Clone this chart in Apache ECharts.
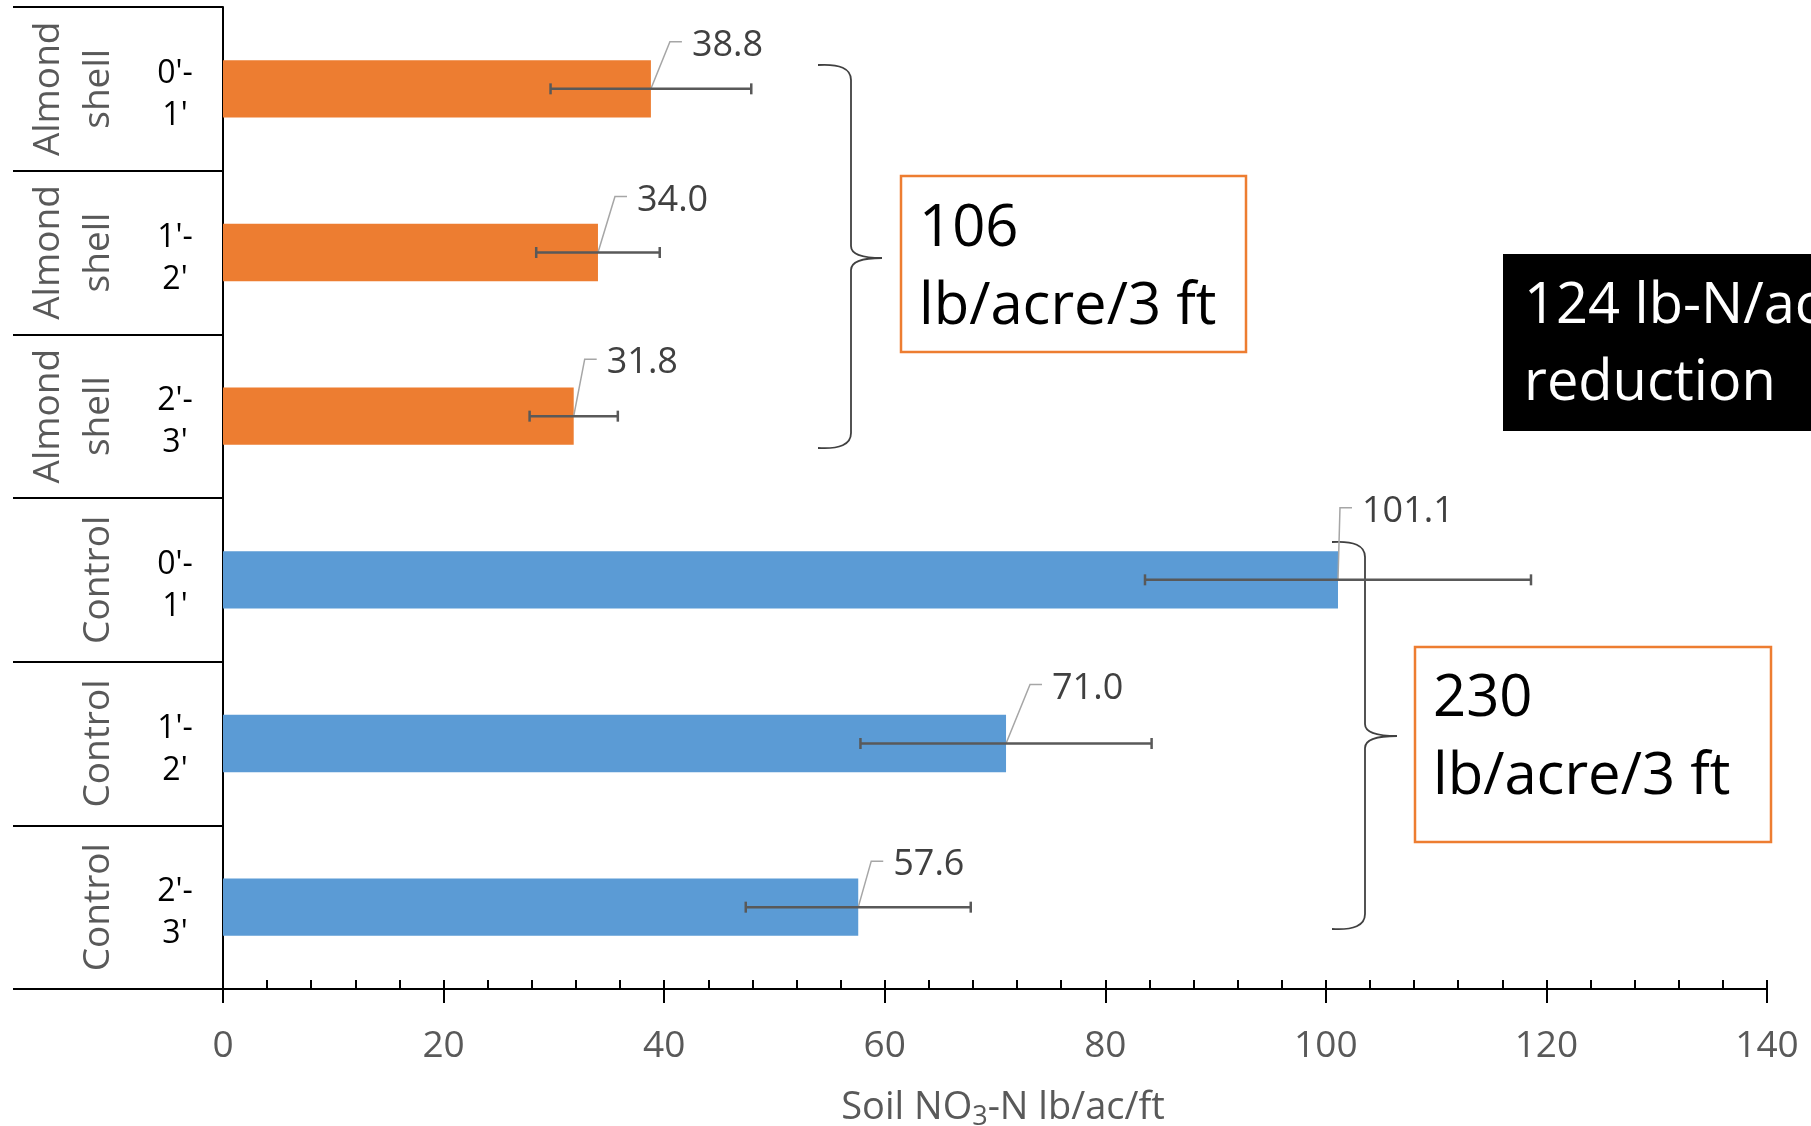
<!DOCTYPE html>
<html>
<head>
<meta charset="utf-8">
<script src="https://cdn.jsdelivr.net/npm/echarts@6/dist/echarts.min.js"></script>
<style>
  html, body { margin: 0; padding: 0; background: #fff; }
  #chart { width: 1811px; height: 1126px; }
</style>
</head>
<body>
<div id="chart"></div>
<script>
// rows, top to bottom
var treatments = ['Almond shell', 'Almond shell', 'Almond shell', 'Control', 'Control', 'Control']
var depths = ["0'-1'", "1'-2'", "2'-3'", "0'-1'", "1'-2'", "2'-3'"]
var no3 = [38.8, 34.0, 31.8, 101.1, 71.0, 57.6]
var errs = [9.1, 5.6, 4.0, 17.5, 13.2, 10.2]
var xTicks = [0, 20, 40, 60, 80, 100, 120, 140]

// label nudges (px) from bar end, like the hand-moved Excel labels
var labelNudge = [[41, -47], [39, -56], [33, -57], [24, -72], [46, -59], [35, -46]]

var colors = { 'Almond shell': '#ED7D31', 'Control': '#5B9BD5' }
var FONT = '"Open Sans", sans-serif'

var barData = []
var errData = []
for (var i = 0; i < no3.length; i++) {
    barData.push({ value: no3[i], itemStyle: { color: colors[treatments[i]] } })
    errData.push([no3[i], i, errs[i]])
}

function renderErr(params, api) {
    var v = api.value(0), i = api.value(1), e = api.value(2)
    var p = api.coord([v, i])
    var lo = api.coord([v - e, i])
    var hi = api.coord([v + e, i])
    var nd = labelNudge[params.dataIndex]
    var tx = p[0] + nd[0], ty = p[1] + nd[1]
    var cap = 5.5
    var err = { stroke: '#595959', lineWidth: 2.5 }
    return {
        type: 'group',
        children: [
            { type: 'polyline', shape: { points: [p, [tx - 22, ty], [tx - 10, ty]] },
              style: { stroke: '#a6a6a6', lineWidth: 1.5, fill: null } },
            { type: 'line', shape: { x1: lo[0], y1: lo[1], x2: hi[0], y2: hi[1] }, style: err },
            { type: 'line', shape: { x1: lo[0], y1: lo[1] - cap, x2: lo[0], y2: lo[1] + cap }, style: err },
            { type: 'line', shape: { x1: hi[0], y1: hi[1] - cap, x2: hi[0], y2: hi[1] + cap }, style: err },
            { type: 'text', x: tx, y: ty + 4,
              style: { text: v.toFixed(1), fill: '#404040', font: '36px ' + FONT,
                       align: 'left', verticalAlign: 'middle' } }
        ]
    }
}

// curly brace made of curves and lines
function brace(x0, xs, xt, y0, ym, y1) {
    var st = { stroke: '#404040', lineWidth: 1.8, fill: null }
    return {
        type: 'group',
        children: [
            { type: 'bezierCurve', shape: { x1: x0, y1: y0, x2: xs, y2: y0 + 15, cpx1: xs, cpy1: y0 - 2 }, style: st },
            { type: 'line', shape: { x1: xs, y1: y0 + 15, x2: xs, y2: ym - 12 }, style: st },
            { type: 'bezierCurve', shape: { x1: xs, y1: ym - 12, x2: xt, y2: ym, cpx1: xs, cpy1: ym }, style: st },
            { type: 'bezierCurve', shape: { x1: xt, y1: ym, x2: xs, y2: ym + 12, cpx1: xs, cpy1: ym }, style: st },
            { type: 'line', shape: { x1: xs, y1: ym + 12, x2: xs, y2: y1 - 15 }, style: st },
            { type: 'bezierCurve', shape: { x1: xs, y1: y1 - 15, x2: x0, y2: y1, cpx1: xs, cpy1: y1 + 2 }, style: st }
        ]
    }
}

var option = {
    animation: false,
    backgroundColor: '#fff',
    textStyle: { fontFamily: FONT },
    grid: { left: 223, right: 44, top: 7, bottom: 137, containLabel: false, outerBoundsMode: 'none' },
    xAxis: [
        {
            type: 'value', position: 'bottom',
            min: xTicks[0], max: xTicks[xTicks.length - 1], interval: 20,
            axisLine: { show: true, lineStyle: { color: '#000', width: 2 } },
            axisTick: { show: true, inside: false, length: 14, lineStyle: { color: '#000', width: 2 } },
            axisLabel: { color: '#595959', fontSize: 37, margin: 39, fontFamily: FONT },
            splitLine: { show: false },
            name: '{a|Soil NO}{s|3}{a|-N lb/ac/ft}',
            nameLocation: 'middle',
            nameGap: 96,
            nameTextStyle: {
                color: '#595959', fontFamily: FONT, padding: [0, 0, 0, 16],
                rich: {
                    a: { fontSize: 38, lineHeight: 46, color: '#595959', fontFamily: FONT },
                    s: { fontSize: 27, lineHeight: 27, verticalAlign: 'bottom', color: '#595959', fontFamily: FONT }
                }
            }
        },
        {
            type: 'value', position: 'bottom',
            min: xTicks[0], max: xTicks[xTicks.length - 1], interval: 4,
            axisLine: { show: false },
            axisTick: { show: true, inside: true, length: 9, lineStyle: { color: '#000', width: 2 } },
            axisLabel: { show: false },
            splitLine: { show: false }
        }
    ],
    yAxis: [
        {
            type: 'category', position: 'left', inverse: true,
            data: depths,
            axisLine: { show: true, lineStyle: { color: '#000', width: 2 } },
            axisTick: { show: true, interval: 0, length: 210, lineStyle: { color: '#000', width: 2 } },
            axisLabel: {
                interval: 0, color: '#000', align: 'center', margin: 48, fontFamily: FONT,
                // small empty first line pushes the two depth lines down a little
                formatter: function (s) {
                    var parts = s.split('-')
                    return '{g| }\n{t|' + parts[0] + '-}\n{t|' + parts[1] + '}'
                },
                rich: {
                    g: { fontSize: 4, lineHeight: 12 },
                    t: { fontSize: 32, lineHeight: 42, color: '#000', fontFamily: FONT }
                }
            }
        },
        {
            type: 'category', position: 'left', inverse: true,
            data: treatments,
            axisLine: { show: false },
            axisTick: { show: false },
            axisLabel: {
                interval: 0, rotate: 90, color: '#595959', fontSize: 37, lineHeight: 50, margin: 100,
                align: 'center', verticalAlign: 'bottom', fontFamily: FONT,
                formatter: function (s) { return s.replace(' ', '\n') }
            }
        }
    ],
    series: [
        {
            name: 'Soil NO3-N', type: 'bar', xAxisIndex: 0, yAxisIndex: 0,
            barWidth: '35%', data: barData
        },
        {
            name: 'error', type: 'custom', xAxisIndex: 0, yAxisIndex: 0, z: 5,
            renderItem: renderErr,
            encode: { x: 0, y: 1 },
            data: errData
        }
    ],
    graphic: [
        brace(818, 851, 882, 65, 258, 448),
        brace(1332, 1365, 1397, 542, 736, 929),
        { type: 'rect', shape: { x: 901, y: 176, width: 345, height: 176 },
          style: { fill: '#fff', stroke: '#ED7D31', lineWidth: 2.5 } },
        { type: 'text', x: 919, y: 190,
          style: { text: '106\nlb/acre/3 ft', fill: '#000', font: '58px ' + FONT, lineHeight: 78,
                   align: 'left', verticalAlign: 'top' } },
        { type: 'rect', shape: { x: 1415, y: 647, width: 356, height: 195 },
          style: { fill: '#fff', stroke: '#ED7D31', lineWidth: 2.5 } },
        { type: 'text', x: 1433, y: 660,
          style: { text: '230\nlb/acre/3 ft', fill: '#000', font: '58px ' + FONT, lineHeight: 78,
                   align: 'left', verticalAlign: 'top' } },
        { type: 'rect', shape: { x: 1503, y: 254, width: 330, height: 177 },
          style: { fill: '#000' } },
        { type: 'text', x: 1524, y: 269,
          style: { text: '124 lb-N/acre\nreduction', fill: '#fff', font: '56px ' + FONT, lineHeight: 77,
                   align: 'left', verticalAlign: 'top' } }
    ]
}

var myChart = echarts.init(document.getElementById('chart'))
myChart.setOption(option, true)
</script>
</body>
</html>
